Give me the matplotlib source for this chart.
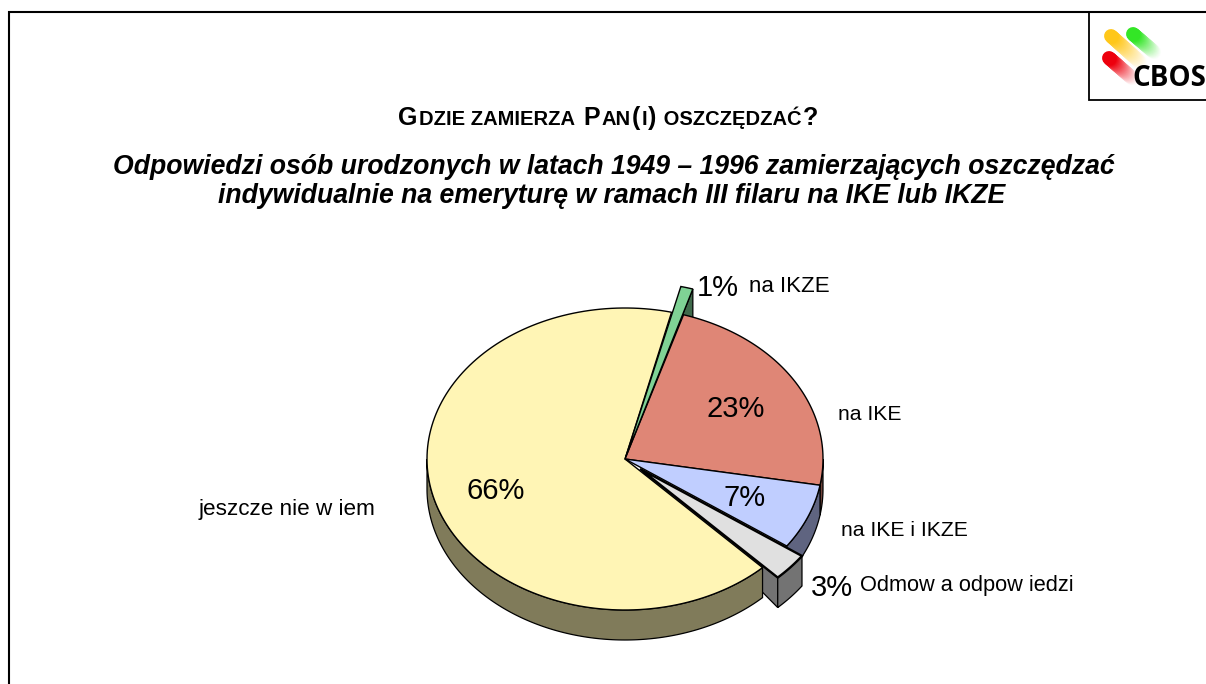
import numpy as np
import matplotlib
matplotlib.use('Agg')
import matplotlib.pyplot as plt
from matplotlib.collections import LineCollection

plt.rcParams['font.family'] = ['Liberation Sans', 'DejaVu Sans']

# data
values = [23, 7, 3, 66, 1]
labels = ['na IKE', 'na IKE i IKZE', 'Odmow a odpow iedzi', 'jeszcze nie w iem', 'na IKZE']
top_colors = ['#DF8676', '#C0CEFF', '#E0E0E0', '#FFF5B5', '#7FD295']
side_colors = ['#70433B', '#5F6480', '#737373', '#807B5A', '#3F6A4B']
explode = [0, 0, 20, 0, 35]
apex_shift = [1, 1, 1, 1, 0.06]
title_runs = [('G', 1), ('DZIE ZAMIERZA ', 0), ('P', 1), ('AN', 0), ('(', 1), ('I', 0), (')', 1),
              (' OSZCZĘDZAĆ', 0), ('?', 1)]
subtitle = ['Odpowiedzi osób urodzonych w latach 1949 – 1996 zamierzających oszczędzać',
            'indywidualnie na emeryturę w ramach III filaru na IKE lub IKZE']

# pie layout, pixels
cx, cy = 625, 459
a, b = 198, 151
depth = 30
start = 17.2

fig = plt.figure(figsize=(12.06, 6.84), dpi=100)
ax = fig.add_axes([0, 0, 1, 1])
ax.set_xlim(0, 1206)
ax.set_ylim(684, 0)
ax.axis('off')

# slice angles, clockwise from the top
edges = start + np.cumsum([0] + values) * 3.6
slices = list(zip(edges[:-1], edges[1:]))


def offset(i, k=1):
    mid = np.radians(sum(slices[i]) / 2)
    return cx + k * explode[i] * np.sin(mid), cy - k * explode[i] * b / a * np.cos(mid)


def rim(i, a0=None, a1=None):
    a0 = slices[i][0] if a0 is None else a0
    a1 = slices[i][1] if a1 is None else a1
    t = np.radians(np.linspace(a0, a1, 150))
    ox, oy = offset(i)
    return ox + a * np.sin(t), oy - b * np.cos(t)


def top(i, zlw=1.0):
    x, y = rim(i)
    ox, oy = offset(i, apex_shift[i])
    ax.fill(np.r_[ox, x], np.r_[oy, y], fc=top_colors[i], ec='black', lw=zlw, joinstyle='miter')


def side(i, a0=None, a1=None):
    x, y = rim(i, a0, a1)
    ax.fill(np.r_[x, x[::-1]], np.r_[y, y[::-1] + depth], fc=side_colors[i], ec='black', lw=0.9)


def radial(i, ang):
    x, y = rim(i, ang, ang)
    ox, oy = offset(i, apex_shift[i])
    ax.fill([ox, x[0], x[0]], [oy, y[0], y[0] + depth], fc=side_colors[i], ec='black', lw=0.9)


side(0, 90, slices[0][1])
side(1)
radial(2, slices[2][1])
side(2)
side(3, slices[3][0], 270)
top(3)
radial(4, slices[4][1])
top(0)
top(1)
top(2, 1.7)
top(4)

# percentages
pct_pos = [(736, 409), (745, 498), (832, 588), (496, 491), (718, 288)]
for v, (x, y) in zip(values, pct_pos):
    ax.text(x, y, f'{v}%', fontsize=21, ha='center', va='center', color='black')

# slice names
name_pos = [(838, 415), (841, 530), (860, 586), (199, 509), (749, 286)]
name_size = [15.2, 15.2, 15.7, 16.2, 16]
for s, (x, y), fs in zip(labels, name_pos, name_size):
    ax.text(x, y, s, fontsize=fs, ha='left', va='center', color='black')

# small caps title, run by run
r = fig.canvas.get_renderer()
x = 398
for s, big in title_runs:
    t = ax.text(x, 125, s, fontsize=18 if big else 14.5, weight='bold', ha='left', va='baseline')
    x += t.get_window_extent(r).width + 1.2 + (3 if s.endswith(' ') else 0)

ax.text(614, 167, subtitle[0], fontsize=19.15, weight='bold', style='italic', ha='center', va='center')
ax.text(612, 196, subtitle[1], fontsize=19.15, weight='bold', style='italic', ha='center', va='center')

# frame
ax.plot([9, 9, 1206], [684, 12, 12], color='black', lw=1.5, solid_joinstyle='miter')
ax.plot([1089, 1089, 1206], [12, 100, 100], color='black', lw=1.3, solid_joinstyle='miter')

# logo
for (x0, y0, x1, y1), col in [((1109, 58, 1132, 78), (0.93, 0, 0.05)),
                              ((1111, 36, 1140, 62), (1.0, 0.78, 0.1)),
                              ((1133, 34, 1154, 52), (0.2, 0.9, 0.15))]:
    n = 30
    xs = np.linspace(x0, x1, n + 1)
    ys = np.linspace(y0, y1, n + 1)
    segs = [[(xs[i], ys[i]), (xs[i + 1], ys[i + 1])] for i in range(n)]
    cols = [tuple(1 - (1 - c) * (1 - i / n) ** 1.1 for c in col) for i in range(n)]
    ax.add_collection(LineCollection(segs[::-1], colors=cols[::-1], linewidths=10, capstyle='round'))
ax.text(1132, 86, 'CBOS', fontsize=20, weight='bold', ha='left', va='baseline', color='black', family=['Open Sans', 'Liberation Sans'])

fig.savefig('out.png', dpi=100)
